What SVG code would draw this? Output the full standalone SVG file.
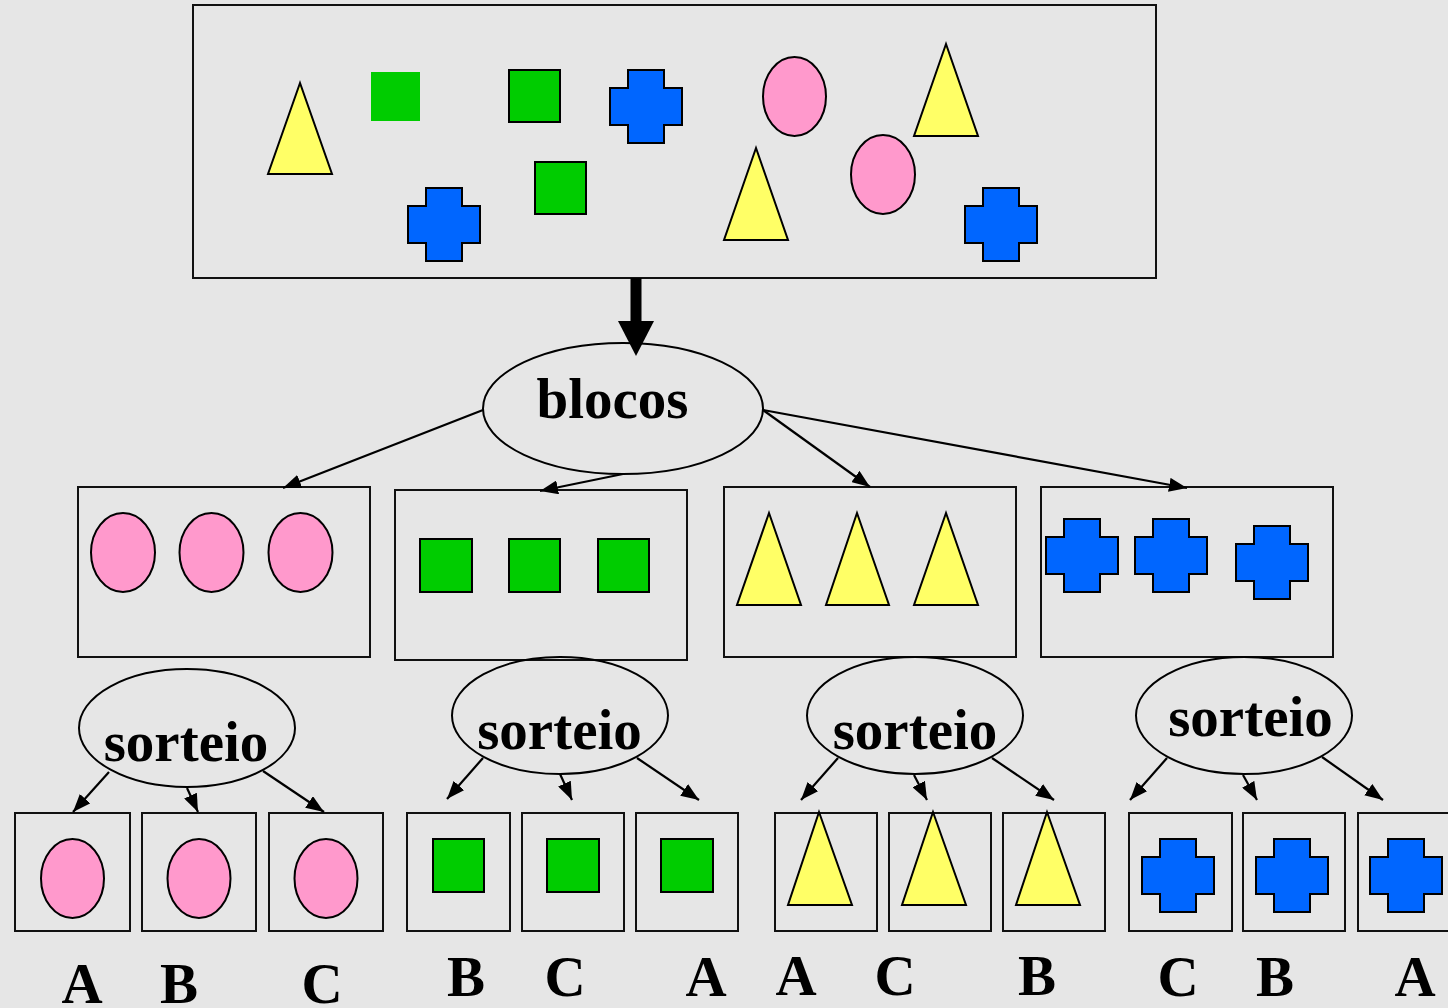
<svg xmlns="http://www.w3.org/2000/svg" xmlns:xlink="http://www.w3.org/1999/xlink" width="1448" height="1008" viewBox="0 0 1448 1008">
<style>
.box{fill:none;stroke:#111;stroke-width:2}
.pink{fill:#ff99cc;stroke:#000;stroke-width:2}
.green{fill:#00cc00;stroke:#000;stroke-width:2}
.blue{fill:#0066ff;stroke:#000;stroke-width:2}
.yellow{fill:#ffff66;stroke:#000;stroke-width:2}
.node{fill:none;stroke:#000;stroke-width:2}
.lbl{font-family:"Liberation Serif","Times New Roman",serif;font-weight:bold;font-size:57px;fill:#000;text-anchor:middle}
.conn{stroke:#000;stroke-width:2.2;fill:none;marker-end:url(#ah)}
</style>
<defs>
<marker id="ah" viewBox="0 0 18 14" refX="18" refY="7" markerWidth="18" markerHeight="14" markerUnits="userSpaceOnUse" orient="auto">
<path d="M0,0 L18,7 L0,14 z" fill="#000"/>
</marker>
<path id="cross" d="M18,0 H54 V18 H72 V55 H54 V73 H18 V55 H0 V18 H18 Z"/>
</defs>
<rect width="1448" height="1008" fill="#e6e6e6"/>

<g id="source">
<rect class="box" x="193" y="5" width="963" height="273"/>
<polygon class="yellow" points="300,83 268,174 332,174"/>
<rect x="371" y="72" width="49" height="49" fill="#00cc00"/>
<rect class="green" x="509" y="70" width="51" height="52"/>
<rect class="green" x="535" y="162" width="51" height="52"/>
<use href="#cross" class="blue" x="610" y="70"/>
<use href="#cross" class="blue" x="408" y="188"/>
<ellipse class="pink" cx="794.5" cy="96.5" rx="31.5" ry="39.5"/>
<polygon class="yellow" points="946,44 914,136 978,136"/>
<polygon class="yellow" points="756,148 724,240 788,240"/>
<ellipse class="pink" cx="883" cy="174.5" rx="32" ry="39.5"/>
<use href="#cross" class="blue" x="965" y="188"/>
</g>

<g id="blocos">
<ellipse class="node" cx="623" cy="408.5" rx="140" ry="65.5"/>
<text class="lbl" x="612.5" y="418">blocos</text>
</g>

<g id="block-circles">
<rect class="box" x="78" y="487" width="292" height="170"/>
<ellipse class="pink" cx="123" cy="552.5" rx="32" ry="39.5"/>
<ellipse class="pink" cx="211.5" cy="552.5" rx="32" ry="39.5"/>
<ellipse class="pink" cx="300.5" cy="552.5" rx="32" ry="39.5"/>
</g>
<g id="block-squares">
<rect class="box" x="395" y="490" width="292" height="170"/>
<rect class="green" x="420" y="539" width="52" height="53"/>
<rect class="green" x="509" y="539" width="51" height="53"/>
<rect class="green" x="598" y="539" width="51" height="53"/>
</g>
<g id="block-triangles">
<rect class="box" x="724" y="487" width="292" height="170"/>
<polygon class="yellow" points="769,513 737,605 801,605"/>
<polygon class="yellow" points="857,513 826,605 889,605"/>
<polygon class="yellow" points="946,513 914,605 978,605"/>
</g>
<g id="block-crosses">
<rect class="box" x="1041" y="487" width="292" height="170"/>
<use href="#cross" class="blue" x="1046" y="519"/>
<use href="#cross" class="blue" x="1135" y="519"/>
<use href="#cross" class="blue" x="1236" y="526"/>
</g>

<g id="sorteio-1">
<ellipse class="node" cx="187" cy="728" rx="108" ry="59"/>
<text class="lbl" x="186" y="761">sorteio</text>
</g>
<g id="sorteio-2">
<ellipse class="node" cx="560" cy="715.5" rx="108" ry="58.5"/>
<text class="lbl" x="559.5" y="749">sorteio</text>
</g>
<g id="sorteio-3">
<ellipse class="node" cx="915" cy="715.5" rx="108" ry="58.5"/>
<text class="lbl" x="915" y="749">sorteio</text>
</g>
<g id="sorteio-4">
<ellipse class="node" cx="1244" cy="715.5" rx="108" ry="58.5"/>
<text class="lbl" x="1250.5" y="736">sorteio</text>
</g>

<g id="result-circles">
<rect class="box" x="15" y="813" width="115" height="118"/>
<rect class="box" x="142" y="813" width="114" height="118"/>
<rect class="box" x="269" y="813" width="114" height="118"/>
<ellipse class="pink" cx="72.5" cy="878.5" rx="31.5" ry="39.5"/>
<ellipse class="pink" cx="199" cy="878.5" rx="31.5" ry="39.5"/>
<ellipse class="pink" cx="326" cy="878.5" rx="31.5" ry="39.5"/>
<text class="lbl" x="82" y="1003">A</text>
<text class="lbl" x="179" y="1003">B</text>
<text class="lbl" x="322" y="1003">C</text>
</g>
<g id="result-squares">
<rect class="box" x="407" y="813" width="103" height="118"/>
<rect class="box" x="522" y="813" width="102" height="118"/>
<rect class="box" x="636" y="813" width="102" height="118"/>
<rect class="green" x="433" y="839" width="51" height="53"/>
<rect class="green" x="547" y="839" width="52" height="53"/>
<rect class="green" x="661" y="839" width="52" height="53"/>
<text class="lbl" x="466" y="996">B</text>
<text class="lbl" x="565" y="996">C</text>
<text class="lbl" x="706" y="996">A</text>
</g>
<g id="result-triangles">
<rect class="box" x="775" y="813" width="102" height="118"/>
<rect class="box" x="889" y="813" width="102" height="118"/>
<rect class="box" x="1003" y="813" width="102" height="118"/>
<polygon class="yellow" points="819,812 788,905 852,905"/>
<polygon class="yellow" points="933,812 902,905 966,905"/>
<polygon class="yellow" points="1047,812 1016,905 1080,905"/>
<text class="lbl" x="796" y="995">A</text>
<text class="lbl" x="895" y="995">C</text>
<text class="lbl" x="1037" y="995">B</text>
</g>
<g id="result-crosses">
<rect class="box" x="1129" y="813" width="103" height="118"/>
<rect class="box" x="1243" y="813" width="102" height="118"/>
<rect class="box" x="1358" y="813" width="102" height="118"/>
<use href="#cross" class="blue" x="1142" y="839"/>
<use href="#cross" class="blue" x="1256" y="839"/>
<use href="#cross" class="blue" x="1370" y="839"/>
<text class="lbl" x="1178" y="996">C</text>
<text class="lbl" x="1275" y="996">B</text>
<text class="lbl" x="1415" y="996">A</text>
</g>

<g id="connectors">
<line x1="636" y1="278" x2="636" y2="322" stroke="#000" stroke-width="11"/>
<polygon points="618,321 654,321 636,356" fill="#000"/>
<line class="conn" x1="483" y1="410" x2="283" y2="488"/>
<line class="conn" x1="623" y1="474" x2="540" y2="491"/>
<line class="conn" x1="763" y1="410" x2="870" y2="487"/>
<line class="conn" x1="763" y1="410" x2="1187" y2="488"/>
<line class="conn" x1="109" y1="772" x2="73" y2="812"/>
<line class="conn" x1="187" y1="788" x2="198" y2="812"/>
<line class="conn" x1="263" y1="771" x2="324" y2="812"/>
<line class="conn" x1="483" y1="758" x2="447" y2="799"/>
<line class="conn" x1="560" y1="774" x2="572" y2="800"/>
<line class="conn" x1="637" y1="758" x2="699" y2="800"/>
<line class="conn" x1="838" y1="758" x2="801" y2="800"/>
<line class="conn" x1="914" y1="775" x2="927" y2="800"/>
<line class="conn" x1="992" y1="758" x2="1054" y2="800"/>
<line class="conn" x1="1167" y1="758" x2="1130" y2="800"/>
<line class="conn" x1="1243" y1="775" x2="1257" y2="800"/>
<line class="conn" x1="1322" y1="757" x2="1383" y2="800"/>
</g>
</svg>
